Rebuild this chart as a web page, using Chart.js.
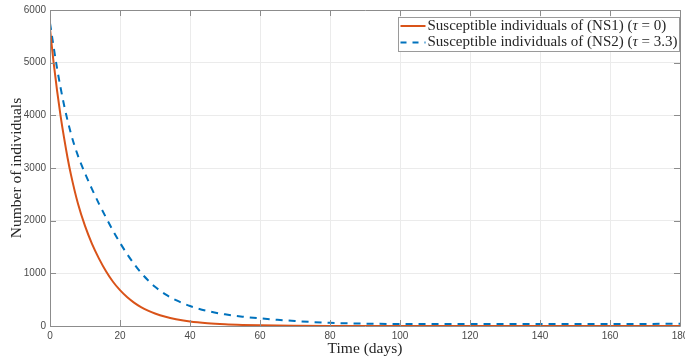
<!DOCTYPE html>
<html>
<head>
<meta charset="utf-8">
<script src="https://cdn.jsdelivr.net/npm/chart.js@4.4.1/dist/chart.umd.min.js"></script>
<style>
  html, body { margin: 0; padding: 0; background: #ffffff; overflow: hidden; }
  #wrap { width: 685px; height: 361px; }
</style>
</head>
<body>
<div id="wrap"><canvas id="c" width="685" height="361"></canvas></div>
<script>
// Susceptible population over time for the two model variants
const daysNS1 = [0, 1, 2, 3, 4, 5, 6, 8, 10, 12, 14, 16, 18, 20, 22, 24, 26, 28, 30, 33, 36, 40, 45, 50, 55, 60, 70, 80, 100, 120, 140, 160, 180];
const susceptibleNS1 = [5640, 5020, 4480, 4000, 3580, 3200, 2870, 2320, 1900, 1560, 1280, 1040, 840, 680, 550, 445, 360, 292, 237, 175, 130, 85, 52, 32, 20, 12, 5, 2, 1, 0, 0, 0, 0];

const daysNS2 = [0, 2, 4, 6, 8, 10, 12, 14, 16, 18, 20, 22, 24, 26, 28, 30, 33, 36, 40, 45, 50, 55, 60, 65, 70, 80, 90, 100, 120, 140, 160, 180];
const susceptibleNS2 = [5750, 4900, 4200, 3650, 3230, 2900, 2600, 2320, 2060, 1810, 1580, 1370, 1180, 1010, 870, 745, 600, 490, 380, 285, 222, 177, 145, 118, 95, 60, 45, 38, 36, 36, 38, 42];

const xTicks = [0, 20, 40, 60, 80, 100, 120, 140, 160, 180];
const yTicks = [0, 1000, 2000, 3000, 4000, 5000, 6000];

const legendLabels = [
  { before: "Susceptible individuals of (NS1) (", sym: "\u03C4", after: " = 0)" },
  { before: "Susceptible individuals of (NS2) (", sym: "\u03C4", after: " = 3.3)" }
];
const xTitle = "Time (days)";
const yTitle = "Number of individuals";

const ORANGE = "#D95319";
const BLUE = "#0072BD";
const AXIS = "#8c8c8c";
const TICKTXT = "#4a4a4a";
const SERIF = "'Liberation Serif', 'DejaVu Serif', serif";

function toPoints(xs, ys) { return xs.map((x, i) => ({ x: x, y: ys[i] })); }

// Box, inward ticks, axis titles and legend drawn on top of the plot
const frame = {
  id: "frame",
  afterDraw(chart) {
    const ctx = chart.ctx;
    const a = chart.chartArea;
    const xs = chart.scales.x, ys = chart.scales.y;
    const tl = 6;
    ctx.save();
    ctx.strokeStyle = AXIS;
    ctx.lineWidth = 1;
    ctx.beginPath();
    ctx.rect(Math.round(a.left) + 0.5, Math.round(a.top) + 0.5, Math.round(a.right - a.left), Math.round(a.bottom - a.top));
    ctx.stroke();
    ctx.beginPath();
    xTicks.forEach(v => {
      const px = Math.round(xs.getPixelForValue(v)) + 0.5;
      ctx.moveTo(px, a.bottom); ctx.lineTo(px, a.bottom - tl);
      ctx.moveTo(px, a.top); ctx.lineTo(px, a.top + tl);
    });
    yTicks.forEach(v => {
      const py = Math.round(ys.getPixelForValue(v)) + 0.5;
      ctx.moveTo(a.left, py); ctx.lineTo(a.left + tl, py);
      ctx.moveTo(a.right, py); ctx.lineTo(a.right - tl, py);
    });
    ctx.stroke();

    // axis titles
    ctx.fillStyle = "#262626";
    ctx.font = "15.5px " + SERIF;
    ctx.textAlign = "center";
    ctx.textBaseline = "middle";
    ctx.fillText(xTitle, (a.left + a.right) / 2, a.bottom + 23);
    ctx.save();
    ctx.translate(a.left - 33, (a.top + a.bottom) / 2);
    ctx.rotate(-Math.PI / 2);
    ctx.fillText(yTitle, 0, 0);
    ctx.restore();

    // legend
    const fs = "15px " + SERIF;
    const bw = 281, bh = 34;
    const bx = Math.round(a.right - bw - 1) + 0.5, by = Math.round(a.top + 7) + 0.5;
    ctx.fillStyle = "#ffffff";
    ctx.fillRect(bx, by, bw, bh);
    ctx.strokeStyle = "#9a9a9a";
    ctx.lineWidth = 1;
    ctx.strokeRect(bx, by, bw, bh);
    const rows = [by + 8.5, by + 25];
    const styles = [{ c: ORANGE, d: [] }, { c: BLUE, d: [6, 6] }];
    ctx.textAlign = "left";
    ctx.textBaseline = "middle";
    legendLabels.forEach((lab, i) => {
      const y = rows[i];
      ctx.save();
      ctx.strokeStyle = styles[i].c;
      ctx.lineWidth = 2;
      ctx.setLineDash(styles[i].d);
      ctx.beginPath();
      ctx.moveTo(bx + 2, y); ctx.lineTo(bx + 27, y);
      ctx.stroke();
      ctx.restore();
      let tx = bx + 29;
      ctx.fillStyle = "#262626";
      ctx.font = fs;
      ctx.fillText(lab.before, tx, y);
      tx += ctx.measureText(lab.before).width;
      ctx.font = "italic " + fs;
      ctx.fillText(lab.sym, tx, y);
      tx += ctx.measureText(lab.sym).width;
      ctx.font = fs;
      ctx.fillText(lab.after, tx, y);
    });
    ctx.restore();
  }
};

new Chart(document.getElementById("c"), {
  type: "line",
  data: {
    datasets: [
      {
        label: "NS1",
        data: toPoints(daysNS1, susceptibleNS1),
        borderColor: ORANGE,
        borderWidth: 2,
        pointRadius: 0,
        cubicInterpolationMode: "monotone",
        fill: false
      },
      {
        label: "NS2",
        data: toPoints(daysNS2, susceptibleNS2),
        borderColor: BLUE,
        borderWidth: 2,
        borderDash: [7, 6],
        pointRadius: 0,
        cubicInterpolationMode: "monotone",
        fill: false
      }
    ]
  },
  options: {
    responsive: false,
    animation: false,
    events: [],
    layout: { padding: { top: 10, right: 5, left: 0, bottom: 0 } },
    plugins: { legend: { display: false }, tooltip: { enabled: false } },
    scales: {
      x: {
        type: "linear",
        min: 0, max: 180,
        afterBuildTicks(s) { s.ticks = xTicks.map(v => ({ value: v })); },
        afterFit(s) { s.height = 35; s.paddingLeft = 0; s.paddingRight = 0; },
        grid: { color: "#ebebeb", drawTicks: false },
        border: { display: false },
        ticks: { padding: 4, color: TICKTXT, font: { family: "'Liberation Sans', Arial, sans-serif", size: 10 }, maxRotation: 0 }
      },
      y: {
        type: "linear",
        min: 0, max: 6000,
        afterBuildTicks(s) { s.ticks = yTicks.map(v => ({ value: v })); },
        afterFit(s) { s.width = 50; s.paddingTop = 0; s.paddingBottom = 0; },
        grid: { color: "#ebebeb", drawTicks: false },
        border: { display: false },
        ticks: { padding: 4, color: TICKTXT, font: { family: "'Liberation Sans', Arial, sans-serif", size: 10 }, callback: v => String(v) }
      }
    }
  },
  plugins: [frame]
});
</script>
</body>
</html>
